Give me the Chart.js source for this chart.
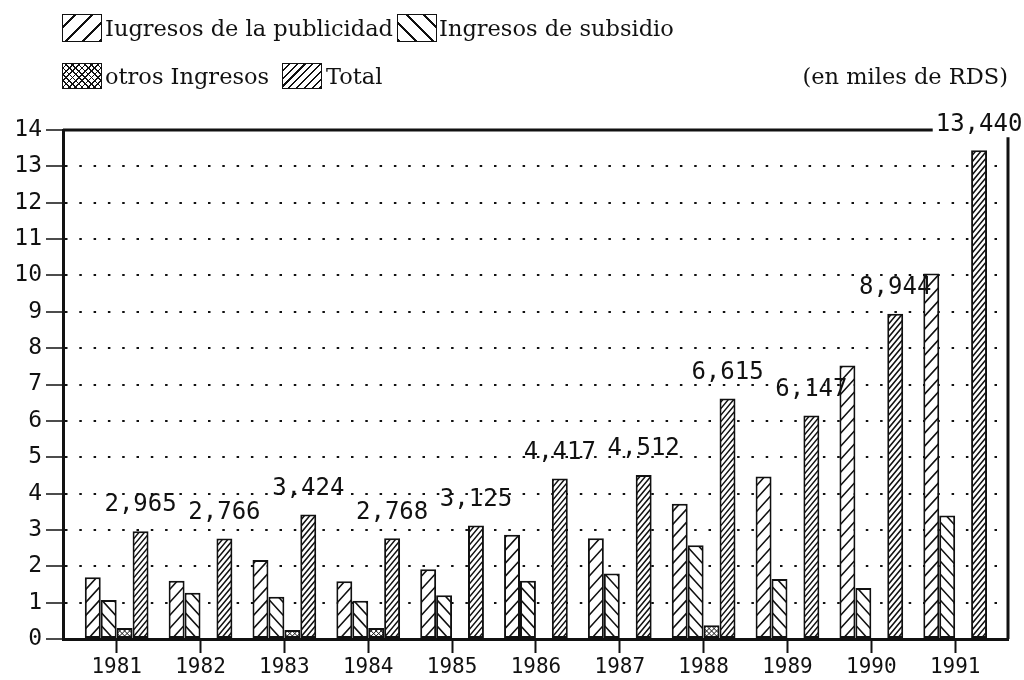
<!DOCTYPE html>
<html>
<head>
<meta charset="utf-8">
<script src="https://cdn.jsdelivr.net/npm/chart.js@4.4.0/dist/chart.umd.min.js"></script>
<style>
  html, body { margin: 0; padding: 0; background: #fff; }
  #wrap { position: relative; width: 1024px; height: 680px; }
  #chart { position: absolute; left: 0; top: 0; }
  .lg { position: absolute; font-family: "DejaVu Serif", "Liberation Serif", serif; font-size: 22.5px; color: #111; line-height: 26px; white-space: nowrap; }
  .sw { position: absolute; width: 38px; height: 24px; border: 1.5px solid #111; background-color: #fff; }
  .sw.pub { background-image: repeating-linear-gradient(-45deg, #111 0 1.5px, transparent 1.5px 12px); }
  .sw.sub { background-image: repeating-linear-gradient(45deg, #111 0 1.5px, transparent 1.5px 12px); }
  .sw.otr { background-image: repeating-linear-gradient(45deg, #111 0 1.2px, transparent 1.2px 4.5px), repeating-linear-gradient(-45deg, #111 0 1.2px, transparent 1.2px 4.5px); }
  .sw.tot { background-image: repeating-linear-gradient(-45deg, #111 0 1.5px, transparent 1.5px 5.5px); }
</style>
</head>
<body>
<div id="wrap">
  <canvas id="chart" width="1024" height="680"></canvas>
  <div class="sw pub" style="left:62px;top:14px;height:26px"></div>
  <div class="lg" style="left:105px;top:15px">Iugresos de la publicidad</div>
  <div class="sw sub" style="left:397px;top:14px;height:26px"></div>
  <div class="lg" style="left:439px;top:15px">Ingresos de subsidio</div>
  <div class="sw otr" style="left:62px;top:63px"></div>
  <div class="lg" style="left:105px;top:63px">otros Ingresos</div>
  <div class="sw tot" style="left:282px;top:63px"></div>
  <div class="lg" style="left:326px;top:63px">Total</div>
  <div class="lg" style="right:16px;top:63px">(en miles de RDS)</div>
</div>
<script>
// datos (millones de RDS en el eje; etiquetas en miles)
const years = [1981, 1982, 1983, 1984, 1985, 1986, 1987, 1988, 1989, 1990, 1991];
const publicidad = [1.70, 1.60, 2.17, 1.59, 1.92, 2.87, 2.77, 3.72, 4.47, 7.52, 10.05];
const subsidio = [1.07, 1.27, 1.16, 1.05, 1.20, 1.60, 1.80, 2.58, 1.65, 1.40, 3.40];
const otros = [0.30, 0, 0.25, 0.30, 0, 0, 0, 0.38, 0, 0, 0];
const total = [2.965, 2.766, 3.424, 2.768, 3.125, 4.417, 4.512, 6.615, 6.147, 8.944, 13.44];
const yMax = 14;

const INK = '#111';
const monoFont = '"DejaVu Sans Mono", "Liberation Mono", monospace';

const fmt = (v) => v.toFixed(3).replace('.', ',');
const pts = (arr) => years.map((yr, i) => ({ x: yr, y: arr[i] }));

// rayado dentro de cada barra
function hatchBar(ctx, bar, dir, gap, slope, lw) {
  const p = bar.getProps(['x', 'y', 'base', 'width'], true);
  const l = p.x - p.width / 2, r = p.x + p.width / 2;
  const t = Math.min(p.y, p.base), b = Math.max(p.y, p.base);
  if (b - t < 1) return;
  const rise = p.width * slope;
  ctx.save();
  ctx.beginPath();
  ctx.rect(l + 1, t + 1, r - l - 2, b - t - 1);
  ctx.clip();
  ctx.beginPath();
  for (let k = -Math.ceil(rise / gap) - 1; k < 400; k++) {
    const yk = b - k * gap;
    if (yk + rise < t) break;
    if (dir === '/' || dir === 'x') { ctx.moveTo(r, yk); ctx.lineTo(l, yk + rise); }
    if (dir === '\\' || dir === 'x') { ctx.moveTo(l, yk); ctx.lineTo(r, yk + rise); }
  }
  ctx.lineWidth = lw;
  ctx.strokeStyle = INK;
  ctx.stroke();
  ctx.restore();
}

const hatchStyles = [
  ['/', 13, 1.1, 1.6],
  ['\\', 13, 1.1, 1.6],
  ['x', 5, 1, 1],
  ['/', 6.5, 1.2, 1.5]
];

const hatchPlugin = {
  id: 'hatch',
  afterDatasetDraw(chart, args) {
    const st = hatchStyles[args.index];
    args.meta.data.forEach(bar => hatchBar(chart.ctx, bar, st[0], st[1], st[2], st[3]));
  }
};

const labelsAndFrame = {
  id: 'labelsAndFrame',
  afterDraw(chart) {
    const ctx = chart.ctx;
    const area = chart.chartArea;
    const meta = chart.getDatasetMeta(3);
    ctx.save();
    ctx.font = '24px ' + monoFont;
    ctx.fillStyle = INK;
    ctx.textAlign = 'center';
    ctx.textBaseline = 'middle';
    let last = null;
    meta.data.forEach((bar, i) => {
      const txt = fmt(total[i]);
      const ty = bar.y - 26;
      ctx.fillText(txt, bar.x, ty);
      last = { x: bar.x, y: ty, w: ctx.measureText(txt).width };
    });
    // marco superior y derecho
    ctx.strokeStyle = INK;
    ctx.lineWidth = 3;
    ctx.beginPath();
    ctx.moveTo(area.left, area.top);
    ctx.lineTo(last.x - last.w / 2 - 3, area.top);
    ctx.moveTo(area.right, last.y + 13);
    ctx.lineTo(area.right, area.bottom);
    ctx.stroke();
    ctx.restore();
  }
};

new Chart(document.getElementById('chart'), {
  type: 'bar',
  data: {
    datasets: [
      { label: 'Iugresos de la publicidad', data: pts(publicidad) },
      { label: 'Ingresos de subsidio', data: pts(subsidio) },
      { label: 'otros Ingresos', data: pts(otros) },
      { label: 'Total', data: pts(total) }
    ].map(ds => Object.assign(ds, {
      backgroundColor: '#fff',
      borderColor: INK,
      borderWidth: 2,
      borderSkipped: false,
      categoryPercentage: 0.76,
      barPercentage: 1
    }))
  },
  options: {
    responsive: false,
    animation: false,
    layout: { padding: { top: 130, right: 16, left: 0, bottom: 0 } },
    plugins: { legend: { display: false }, tooltip: { enabled: false } },
    scales: {
      x: {
        type: 'linear',
        min: 1980.36,
        max: 1991.63,
        offset: false,
        afterFit: (s) => { s.height = 41; },
        ticks: {
          stepSize: 1,
          includeBounds: false,
          autoSkip: false,
          maxRotation: 0,
          padding: 2,
          color: INK,
          font: { family: monoFont, size: 21 },
          callback: (v) => Number.isInteger(v) ? String(v) : ''
        },
        grid: {
          offset: false,
          drawOnChartArea: false,
          tickLength: 14,
          tickWidth: 2,
          tickColor: (c) => (c.tick && Number.isInteger(c.tick.value)) ? INK : 'rgba(0,0,0,0)'
        },
        border: { width: 3, color: INK }
      },
      y: {
        min: 0,
        max: yMax,
        afterFit: (s) => { s.width = 63; },
        ticks: {
          stepSize: 1,
          padding: 4,
          color: INK,
          font: { family: monoFont, size: 23 }
        },
        grid: {
          color: (c) => (c.tick && (c.tick.value === 0 || c.tick.value === yMax)) ? 'rgba(0,0,0,0)' : INK,
          lineWidth: 2,
          tickLength: 17,
          tickWidth: 1.5,
          tickColor: INK,
          tickBorderDash: []
        },
        border: { width: 3, color: INK, dash: [2.5, 11.8] }
      }
    }
  },
  plugins: [hatchPlugin, labelsAndFrame]
});
</script>
</body>
</html>
